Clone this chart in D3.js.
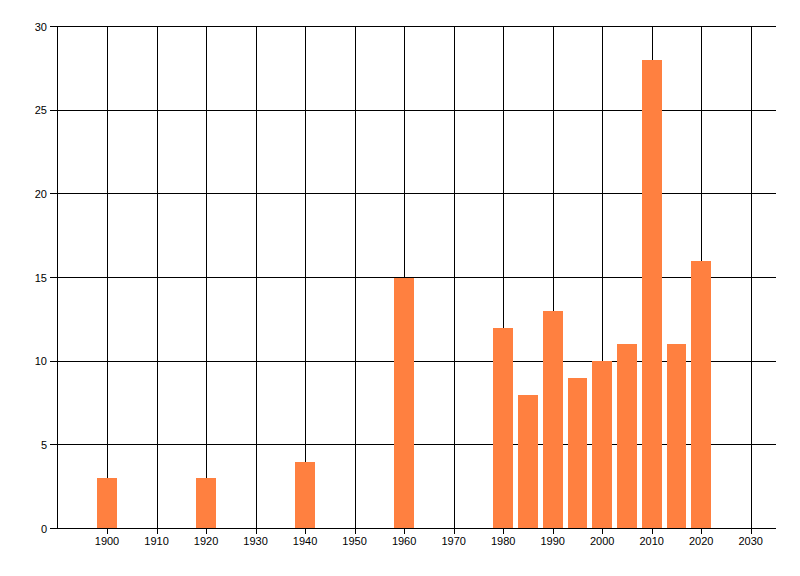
<!DOCTYPE html>
<html>
<head>
<meta charset="utf-8">
<script src="https://cdn.jsdelivr.net/npm/d3@7"></script>
<style>
  html, body { margin: 0; padding: 0; background: #fff; }
  svg { display: block; }
  text { font-family: "Liberation Sans", Arial, sans-serif; font-size: 11px; fill: #000; }
</style>
</head>
<body>
<svg id="chart" width="800" height="576"></svg>
<script>
const years  = [1900, 1920, 1940, 1960, 1980, 1985, 1990, 1995, 2000, 2005, 2010, 2015, 2020];
const counts = [3, 3, 4, 15, 12, 8, 13, 9, 10, 11, 28, 11, 16];
const xTicks = [1900, 1910, 1920, 1930, 1940, 1950, 1960, 1970, 1980, 1990, 2000, 2010, 2020, 2030];
const yTicks = [0, 5, 10, 15, 20, 25, 30];

const svg = d3.select("#chart");
const pLeft = 57.5, pRight = 775.5, pTop = 26.5, pBottom = 528.5;

const x = d3.scaleLinear().domain([1890, 2035]).range([pLeft, pRight]);
const y = d3.scaleLinear().domain([0, 30]).range([pBottom, pTop]);

const g = svg.append("g").attr("shape-rendering", "crispEdges");

// horizontal grid + y ticks
g.selectAll("line.hgrid").data(yTicks).join("line")
  .attr("class", "hgrid")
  .attr("x1", pLeft - 8).attr("x2", pRight)
  .attr("y1", d => Math.floor(y(d)) + 0.5).attr("y2", d => Math.floor(y(d)) + 0.5)
  .attr("stroke", "#000").attr("stroke-width", 1);

// vertical grid + x ticks
g.selectAll("line.vgrid").data(xTicks).join("line")
  .attr("class", "vgrid")
  .attr("x1", d => Math.round(x(d)) + 0.5).attr("x2", d => Math.round(x(d)) + 0.5)
  .attr("y1", pTop).attr("y2", pBottom + 5)
  .attr("stroke", "#000").attr("stroke-width", 1);

// left axis line
g.append("line").attr("x1", pLeft).attr("x2", pLeft).attr("y1", pTop).attr("y2", pBottom)
  .attr("stroke", "#000");

// bars
const data = years.map((yr, i) => ({ yr, v: counts[i] }));
g.selectAll("rect.bar").data(data).join("rect")
  .attr("class", "bar")
  .attr("x", d => x(d.yr - 2))
  .attr("width", d => x(d.yr + 2) - x(d.yr - 2))
  .attr("y", d => y(d.v))
  .attr("height", d => y(0) - y(d.v))
  .attr("fill", "#ff8040");

// bottom axis line on top
g.append("line").attr("x1", pLeft).attr("x2", pRight).attr("y1", pBottom).attr("y2", pBottom)
  .attr("stroke", "#000");

// labels
svg.selectAll("text.xl").data(xTicks).join("text")
  .attr("class", "xl")
  .attr("x", d => x(d)).attr("y", 545)
  .attr("text-anchor", "middle")
  .text(d => d);

svg.selectAll("text.yl").data(yTicks).join("text")
  .attr("class", "yl")
  .attr("x", 47).attr("y", d => y(d) + 4)
  .attr("text-anchor", "end")
  .text(d => d);
</script>
</body>
</html>
